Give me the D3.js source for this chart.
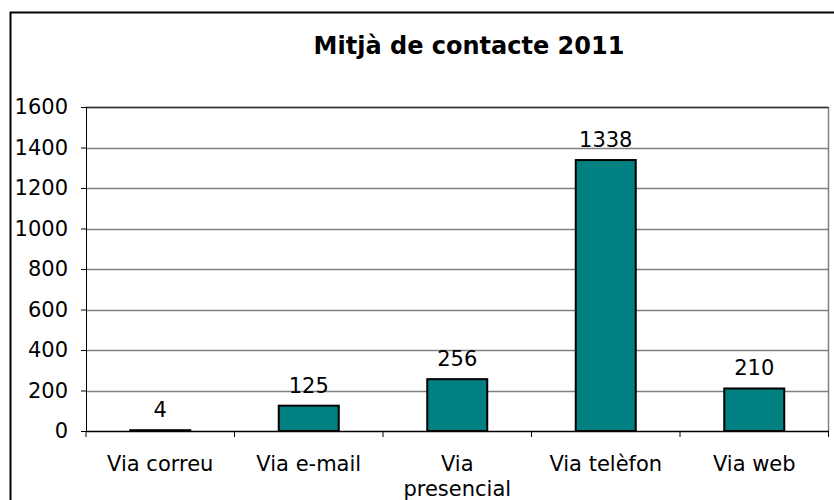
<!DOCTYPE html>
<html>
<head>
<meta charset="utf-8">
<script src="https://cdn.jsdelivr.net/npm/d3@7"></script>
<style>
  body { margin: 0; background: #fff; }
  text { font-family: "DejaVu Sans", Verdana, sans-serif; fill: #000; }
</style>
</head>
<body>
<div id="chart"></div>
<script>
// data
var categories = ["Via correu", "Via e-mail", "Via presencial", "Via telèfon", "Via web"];
var catLines = [["Via correu"], ["Via e-mail"], ["Via", "presencial"], ["Via telèfon"], ["Via web"]];
var values = [4, 125, 256, 1338, 210];
var yTicks = [0, 200, 400, 600, 800, 1000, 1200, 1400, 1600];
var title = "Mitjà de contacte 2011";

var W = 834, H = 500;
var margin = { top: 107, right: 6, bottom: 69, left: 86 },
    width = 828.5 - margin.left,
    height = 431 - margin.top;

var svg = d3.select("#chart").append("svg")
    .attr("width", W).attr("height", H);

// outer frame (runs off the right and bottom edge)
svg.append("rect")
    .attr("x", 10.5).attr("y", 12.5)
    .attr("width", W).attr("height", H)
    .attr("fill", "none").attr("stroke", "#000").attr("stroke-width", 2);

svg.append("text")
    .attr("x", 469).attr("y", 54)
    .attr("text-anchor", "middle")
    .style("font-size", "24px").style("font-weight", "bold")
    .text(title);

var g = svg.append("g").attr("transform", "translate(" + margin.left + "," + margin.top + ")");

var x = d3.scaleBand().domain(categories).range([0, width]).paddingInner(0).paddingOuter(0);
var y = d3.scaleLinear().domain([0, 1600]).range([height, 0]);

// gridlines
g.selectAll(".grid").data(yTicks.slice(1)).enter().append("line")
    .attr("x1", 0).attr("x2", width)
    .attr("y1", function (d) { return Math.round(y(d)) + 0.5; })
    .attr("y2", function (d) { return Math.round(y(d)) + 0.5; })
    .attr("stroke", "#808080").attr("stroke-width", 1.5);

// right border of plot area
g.append("line")
    .attr("x1", width).attr("x2", width).attr("y1", 0).attr("y2", height)
    .attr("stroke", "#808080").attr("stroke-width", 1.5);
g.append("line")
    .attr("x1", 0).attr("x2", width).attr("y1", 0.5).attr("y2", 0.5)
    .attr("stroke", "#333").attr("stroke-width", 1.5);

// y axis
var yAxis = g.append("g")
    .call(d3.axisLeft(y).tickValues(yTicks).tickSize(5).tickPadding(13).tickFormat(d3.format("d")));
yAxis.select(".domain").attr("stroke", "#000");
yAxis.selectAll("text").style("font-size", "21px").attr("fill", "#000");

// bars
var barW = 60;
g.selectAll(".bar").data(values).enter().append("rect")
    .attr("x", function (d, i) { return x(categories[i]) + x.bandwidth() / 2 - barW / 2; })
    .attr("y", function (d) { return y(d); })
    .attr("width", barW)
    .attr("height", function (d) { return height - y(d); })
    .attr("fill", "#008080").attr("stroke", "#000").attr("stroke-width", 2);

// x axis
var xAxis = g.append("g").attr("transform", "translate(0," + height + ")")
    .call(d3.axisBottom(x).tickSize(0).tickFormat(""));
xAxis.select(".domain").attr("stroke", "#000").attr("stroke-width", 1.5);
g.selectAll(".xtick").data(d3.range(categories.length + 1)).enter().append("line")
    .attr("x1", function (d) { return d * x.step(); })
    .attr("x2", function (d) { return d * x.step(); })
    .attr("y1", height).attr("y2", height + 6)
    .attr("stroke", "#000");

// category labels
g.selectAll(".cat").data(catLines).enter().append("text")
    .attr("text-anchor", "middle")
    .style("font-size", "21px")
    .attr("transform", function (d, i) { return "translate(" + (x(categories[i]) + x.bandwidth() / 2) + "," + (height + 40) + ")"; })
    .selectAll("tspan").data(function (d) { return d; }).enter().append("tspan")
    .attr("x", 0).attr("dy", function (d, i) { return i === 0 ? 0 : 25; })
    .text(function (d) { return d; });

// value labels
g.selectAll(".val").data(values).enter().append("text")
    .attr("x", function (d, i) { return x(categories[i]) + x.bandwidth() / 2; })
    .attr("y", function (d) { return y(d) - 13; })
    .attr("text-anchor", "middle")
    .style("font-size", "21px")
    .text(function (d) { return d; });
</script>
</body>
</html>
